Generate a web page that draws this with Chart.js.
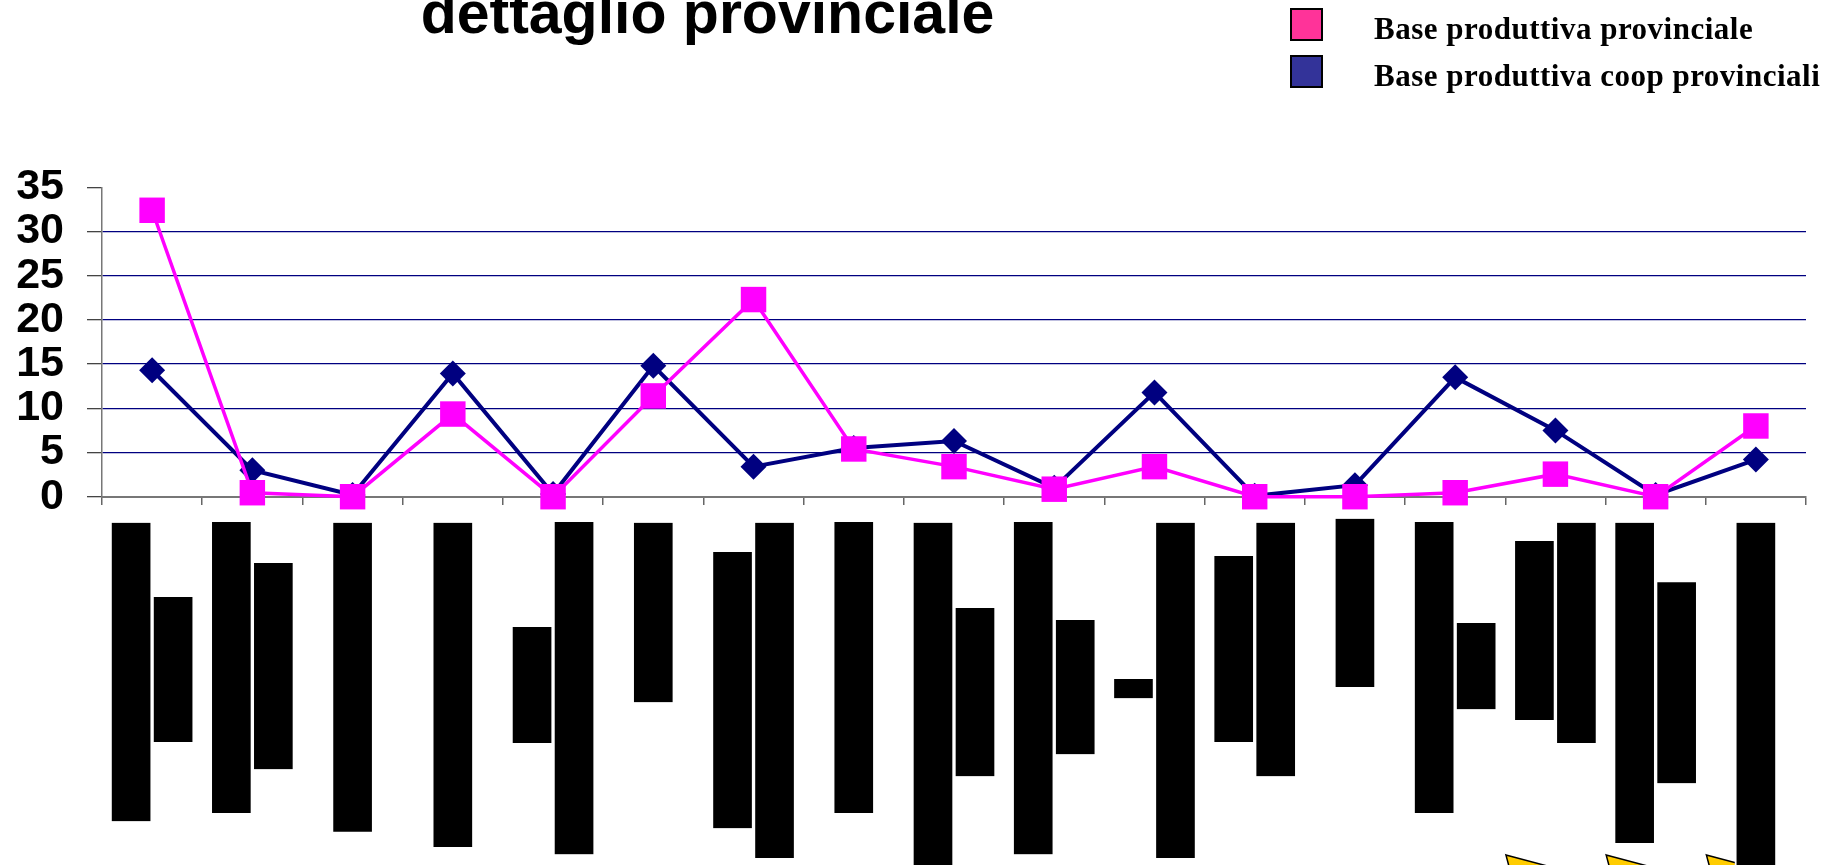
<!DOCTYPE html>
<html>
<head>
<meta charset="utf-8">
<script src="https://cdn.jsdelivr.net/npm/chart.js@4/dist/chart.umd.min.js"></script>
<style>
  html, body { margin: 0; padding: 0; background: #fff; }
  #wrap { position: relative; width: 1833px; height: 865px; overflow: hidden; }
  #titolo {
    position: absolute; left: 0; top: -16px; width: 1415px; text-align: center;
    font: bold 59px 'Liberation Sans', Arial, sans-serif; line-height: 59px; color: #000;
  }
  .sw { position: absolute; left: 1290px; width: 33px; height: 33px; border: 2px solid #000; box-sizing: border-box; }
  .lt {
    position: absolute; left: 1374px; white-space: nowrap; letter-spacing: 0.5px;
    font: bold 31px 'Liberation Serif', 'Times New Roman', serif; line-height: 30px; color: #000;
  }
</style>
</head>
<body>
<div id="wrap">
  <canvas id="grafico"></canvas>
  <div id="titolo">dettaglio provinciale</div>
  <div class="sw" style="top:8px;background:#FF3399"></div>
  <div class="lt" style="top:14px">Base produttiva provinciale</div>
  <div class="sw" style="top:55px;background:#333399"></div>
  <div class="lt" style="top:61px">Base produttiva coop provinciali</div>
</div>
<script>
  // ---- dati ----
  const categorie = ['P1','P2','P3','P4','P5','P6','P7','P8','P9','P10','P11','P12','P13','P14','P15','P16','P17'];
  const baseProvinciale = [32.4, 0.45, 0, 9.35, 0, 11.4, 22.3, 5.4, 3.4, 0.85, 3.4, 0, 0, 0.45, 2.55, 0, 8.0];
  const baseCoop        = [14.3, 3.0, 0.2, 13.95, 0.3, 14.8, 3.4, 5.5, 6.3, 1.0, 11.8, 0.1, 1.3, 13.5, 7.5, 0.2, 4.2];
  const yTicks = [0, 5, 10, 15, 20, 25, 30, 35];

  // etichette di categoria (rese come blocchi neri sotto l'asse), estensione 0-100
  const etichetteSx = [[7.1,88.1],[6.9,85.9],[7.1,91.0],[7.1,95.1],[35.4,66.9],[7.1,55.8],[15.0,90.0],[6.9,85.9],
                       [7.1,100],[6.9,97.1],[49.5,54.7],[16.1,66.6],[6.0,51.7],[6.9,85.9],[12.0,60.6],[7.1,94.0],[7.1,100]];
  const etichetteDx = [[27.2,66.6],[18.0,74.0],null,null,[6.9,97.1],null,[7.1,98.1],null,
                       [30.2,75.9],[33.5,69.9],[7.1,98.1],[7.1,75.9],null,[34.3,57.7],[7.1,66.9],[23.2,77.8],null];
  const frecce = [null,null,null,null,null,null,null,null,null,null,null,null,null,null,110.7,110.7,110.7];

  const ctx = document.getElementById('grafico');
  new Chart(ctx, {
    type: 'bar',
    data: {
      labels: categorie,
      datasets: [
        {
          label: 'Base produttiva provinciale',
          type: 'line',
          data: baseProvinciale,
          yAxisID: 'y',
          borderColor: '#FF00FF',
          backgroundColor: '#FF00FF',
          borderWidth: 3.5,
          tension: 0,
          pointStyle: 'rect',
          pointRadius: 18,
          pointBorderWidth: 0,
          clip: false
        },
        {
          label: 'Base produttiva coop provinciali',
          type: 'line',
          data: baseCoop,
          yAxisID: 'y',
          borderColor: '#000080',
          backgroundColor: '#000080',
          borderWidth: 4,
          tension: 0,
          pointStyle: 'rectRot',
          pointRadius: 13,
          pointBorderWidth: 0,
          clip: false
        },
        {
          label: 'etichette sx',
          data: etichetteSx,
          yAxisID: 'yb',
          backgroundColor: '#000',
          borderColor: '#fff',
          borderWidth: { left: 2, right: 2, top: 0, bottom: 0 },
          borderSkipped: false,
          barThickness: 42,
          skipNull: true
        },
        {
          label: 'etichette dx',
          data: etichetteDx,
          yAxisID: 'yb',
          backgroundColor: '#000',
          borderColor: '#fff',
          borderWidth: { left: 2, right: 2, top: 0, bottom: 0 },
          borderSkipped: false,
          barThickness: 42,
          skipNull: true
        },
        {
          label: 'frecce',
          type: 'line',
          data: frecce,
          yAxisID: 'yb',
          showLine: false,
          pointStyle: 'triangle',
          pointRotation: -45,
          pointRadius: 70,
          pointBackgroundColor: '#FFCC00',
          pointBorderColor: '#000',
          pointBorderWidth: 1.5,
          clip: false
        }
      ]
    },
    options: {
      responsive: true,
      maintainAspectRatio: false,
      animation: false,
      events: [],
      layout: { autoPadding: false, padding: { left: 0, right: 27, top: 187.3, bottom: 0 } },
      plugins: { legend: { display: false }, tooltip: { enabled: false } },
      scales: {
        x: {
          position: { y: 0 },
          ticks: { display: false },
          grid: { drawOnChartArea: false, drawTicks: true, tickLength: 7, tickColor: '#666', lineWidth: 1.5 },
          border: { color: '#777', width: 2 }
        },
        y: {
          position: 'left',
          stack: 'v',
          stackWeight: 309.4,
          weight: 1,
          min: 0,
          max: 35,
          afterBuildTicks: (scale) => { scale.ticks = yTicks.map(v => ({ value: v })); },
          afterFit: (scale) => {
            scale.width = 102;
            scale.paddingTop = 0;
            scale.paddingBottom = 0;
          },
          ticks: {
            color: '#000',
            padding: 23,
            autoSkip: false,
            font: { family: 'Liberation Sans', size: 43, weight: 'bold' }
          },
          grid: {
            color: (c) => (c.tick && (c.tick.value === 0 || c.tick.value === 35)) ? 'rgba(0,0,0,0)' : '#000080',
            tickColor: '#444',
            tickLength: 15,
            lineWidth: 1.3
          },
          border: { color: '#777', width: 1.5 }
        },
        yb: {
          position: 'left',
          stack: 'v',
          stackWeight: 368.3,
          weight: 0,
          reverse: true,
          min: 0,
          max: 100,
          ticks: { display: false },
          grid: { display: false },
          border: { display: false }
        }
      }
    }
  });
</script>
</body>
</html>
